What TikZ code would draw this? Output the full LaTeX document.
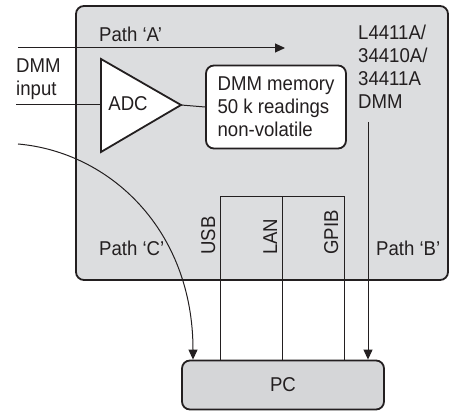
\documentclass[tikz,border=0pt]{standalone}
\usepackage{fontspec}
\setmainfont[FakeStretch=0.93]{Liberation Sans}
\usetikzlibrary{arrows.meta}
\definecolor{ink}{HTML}{231F20}
\definecolor{boxgray}{HTML}{DCDDDF}
\definecolor{pcgray}{HTML}{D5D6D8}
\begin{document}
\begin{tikzpicture}[x=1pt,y=-1pt,
  every node/.style={text=ink,font=\fontsize{20}{23}\selectfont},
  frame/.style={draw=ink,line width=1.8pt,rounded corners=8pt},
  wire/.style={draw=ink,line width=1pt},
  arrowwire/.style={wire,-{Triangle[length=10pt,width=9pt]}},
  txt/.style={inner sep=0pt,anchor=base west,align=left},
  vtxt/.style={inner sep=0pt,anchor=base west,rotate=90}
]
\useasboundingbox (0,0) rectangle (453,411);
% main instrument box
\node[frame,fill=boxgray,minimum width=372pt,minimum height=274pt] (dmm) at (262,143) {};
% PC box
\node[frame,fill=pcgray,minimum width=202pt,minimum height=49pt] (pc) at (283,385) {PC};
% ADC triangle
\coordinate (adcL) at (101,105);
\coordinate (adcT) at (181,105);
\draw[ink,line width=1.8pt,fill=white,line join=miter] (101,59) -- (adcT) -- (101,152) -- cycle;
\node (adc) at (128,104) {ADC};
% memory
\node[frame,fill=white,minimum width=140pt,minimum height=83pt,align=left,inner sep=0pt] (mem) at (276,107) {DMM memory\\50 k readings\\non-volatile};
\draw[wire] (adcT) -- (mem.west);
% DMM input
\coordinate (in) at (16,105);
\draw[wire] (in) -- (adcL);
\node[txt] (inlbl) at (16,96) {DMM\\input};
% Path A
\coordinate (aS) at (18,48);
\coordinate (aE) at (285,48);
\draw[arrowwire] (aS) -- (aE);
\node[txt] (albl) at (99,42) {Path ‘A’};
% model text
\node[txt] (model) at (358,109) {L4411A/\\34410A/\\34411A\\DMM};
% Path B
\coordinate (bS) at (368,122);
\draw[arrowwire] (bS) -- (bS |- pc.north);
\node[txt] (blbl) at (376,256) {Path ‘B’};
% Path C
\coordinate (cS) at (18,144);
\coordinate (cX) at (193,0);
\draw[arrowwire] (cS) .. controls (110,152) and (193,230) .. (cX |- pc.north);
\node[txt] (clbl) at (99,256) {Path ‘C’};
% interfaces
\coordinate (usbx) at (220,197);
\coordinate (lanx) at (282,197);
\coordinate (gpibx) at (344,197);
\draw[wire] (usbx |- pc.north) -- (usbx) -- (gpibx) -- (gpibx |- pc.north);
\draw[wire] (lanx) -- (lanx |- pc.north);
\node[vtxt] (usb) at (215,255) {USB};
\node[vtxt] (lan) at (277,255) {LAN};
\node[vtxt] (gpib) at (338,255) {GPIB};
\end{tikzpicture}
\end{document}
